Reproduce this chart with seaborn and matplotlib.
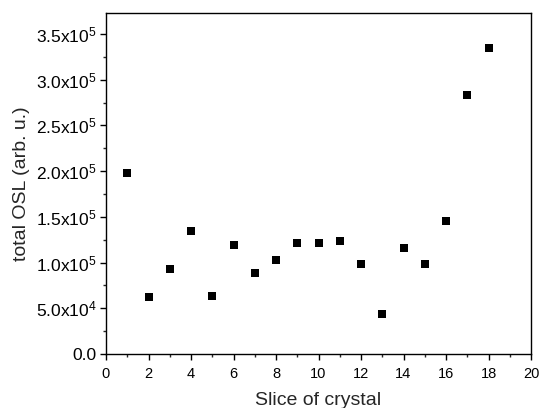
import matplotlib
matplotlib.use("Agg")
import matplotlib.pyplot as plt
import seaborn as sns
import pandas as pd
from matplotlib.ticker import MultipleLocator, FuncFormatter

slices = list(range(1, 19))
osl = [1.98e5, 0.62e5, 0.93e5, 1.342e5, 0.63e5, 1.196e5, 0.89e5, 1.028e5, 1.21e5,
       1.218e5, 1.236e5, 0.98e5, 0.44e5, 1.16e5, 0.98e5, 1.458e5, 2.83e5, 3.345e5]

sns.set_style("ticks")
plt.rcParams['font.family'] = ['Liberation Sans', 'DejaVu Sans']
plt.rcParams['mathtext.fontset'] = 'custom'
plt.rcParams['mathtext.rm'] = 'Liberation Sans'
plt.rcParams['mathtext.it'] = 'Liberation Sans'

df = pd.DataFrame({"slice": slices, "osl": osl})
fig = plt.figure(figsize=(5.39, 4.08), dpi=100)
ax = fig.add_axes([106/539, 1-354/408, (531-106)/539, (354-13)/408])
sns.scatterplot(data=df, x="slice", y="osl", marker="s", color="black", s=32,
                linewidth=0, ax=ax)
ax.set_xlim(0, 20)
ax.set_ylim(0, 3.73e5)
ax.xaxis.set_major_locator(MultipleLocator(2))
ax.xaxis.set_minor_locator(MultipleLocator(1))
ax.yaxis.set_major_locator(MultipleLocator(0.5e5))
ax.yaxis.set_minor_locator(MultipleLocator(0.25e5))

def fmt(v, pos):
    if v == 0:
        return "0.0"
    import math
    e = int(math.floor(math.log10(abs(v)) + 1e-9))
    m = v / 10**e
    return f"{m:.1f}x10$^{{{e}}}$"
ax.yaxis.set_major_formatter(FuncFormatter(fmt))

for s in ax.spines.values():
    s.set_linewidth(1.0)
    s.set_color("black")
ax.tick_params(which="major", direction="out", length=4, width=1, colors="black", pad=3)
ax.tick_params(axis="y", which="major", labelsize=12.5)
ax.tick_params(axis="x", which="major", labelsize=10.5, pad=5)
ax.tick_params(which="minor", direction="out", length=2.5, width=1)
ax.set_xlabel("Slice of crystal", fontsize=14, labelpad=8)
ax.set_ylabel("total OSL (arb. u.)", fontsize=14)
fig.savefig("out.png", dpi=100)
